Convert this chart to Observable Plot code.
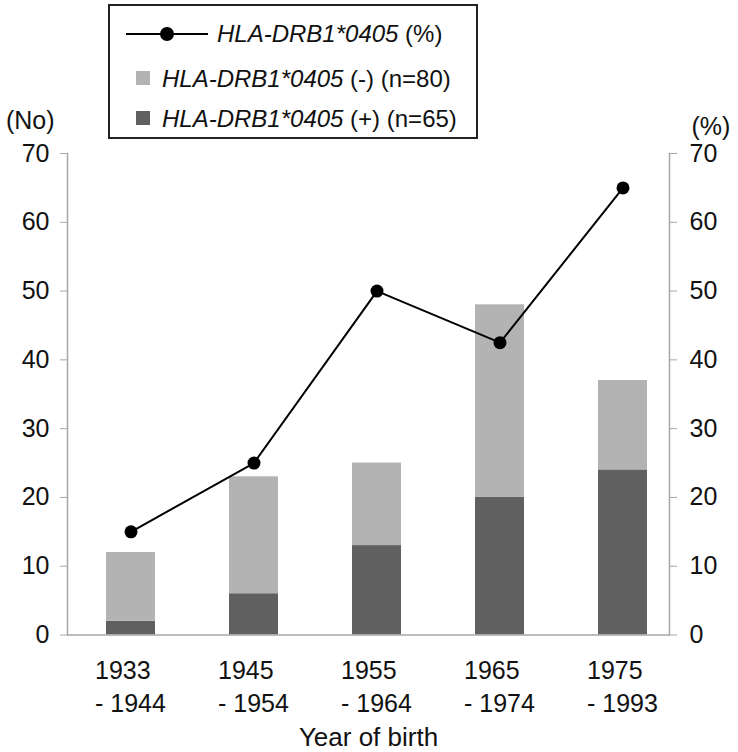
<!DOCTYPE html>
<html>
<head>
<meta charset="utf-8">
<script src="https://cdn.jsdelivr.net/npm/d3@7"></script>
<script src="https://cdn.jsdelivr.net/npm/@observablehq/plot@0.6"></script>
<style>
  html, body { margin: 0; padding: 0; background: #fff; }
  #wrap { position: relative; width: 738px; height: 752px; font-family: "Liberation Sans", Arial, sans-serif; }
  #legend { position: absolute; left: 108px; top: 4px; width: 366px; height: 131px; border: 2px solid #222; background: #fff; }
  .row { position: absolute; font-size: 24px; color: #111; line-height: 1; white-space: nowrap; }
  .row i { font-style: italic; }
  .sym { position: absolute; }
</style>
</head>
<body>
<div id="wrap">
  <div id="chart"></div>
  <div id="legend"></div>
</div>
<script>
// ---- data ----
const periods = ["1933 - 1944", "1945 - 1954", "1955 - 1964", "1965 - 1974", "1975 - 1993"];
const positiveCounts = [2, 6, 13, 20, 24];     // HLA-DRB1*0405 (+)
const negativeCounts = [10, 17, 12, 28, 13];   // HLA-DRB1*0405 (-)
const positivePercent = [15, 25, 50, 42.5, 65];
const yTicks = [0, 10, 20, 30, 40, 50, 60, 70];
const groups = ["(+)", "(-)"];
const groupColors = ["#606060", "#b3b3b3"];
const legendLabels = ["HLA-DRB1*0405 (%)", "HLA-DRB1*0405 (-) (n=80)", "HLA-DRB1*0405 (+) (n=65)"];

// ---- table ----
const bars = [];
periods.forEach((p, i) => {
  bars.push({period: p, group: "(+)", count: positiveCounts[i]});
  bars.push({period: p, group: "(-)", count: negativeCounts[i]});
});
const pct = periods.map((p, i) => ({period: p, pct: positivePercent[i]}));

const axisGray = "#a6a6a6";
const W = 738, H = 752;

const chart = Plot.plot({
  width: W,
  height: H,
  marginLeft: 67,
  marginRight: 69,
  marginTop: 153,
  marginBottom: 117.5,
  style: {fontFamily: "'Liberation Sans', Arial, sans-serif", fontSize: "25px", color: "#111", background: "#fff"},
  x: {domain: periods, range: [67, 686], paddingInner: 0.6, paddingOuter: 0.3},
  y: {domain: [0, 70]},
  color: {domain: groups, range: groupColors},
  marks: [
    Plot.barY(bars, {x: "period", y: "count", fill: "group"}),
    Plot.ruleY([0], {stroke: axisGray, strokeWidth: 1.5}),
    Plot.frame({anchor: "left", stroke: axisGray, strokeWidth: 1.5}),
    Plot.frame({anchor: "right", stroke: axisGray, strokeWidth: 1.5}),
    Plot.axisY(yTicks, {anchor: "left", label: null, tickSize: 7, tickPadding: 11, stroke: axisGray, fontSize: 25}),
    Plot.axisY(yTicks, {anchor: "right", label: null, tickSize: 7, tickPadding: 13, stroke: axisGray, fontSize: 25}),
    Plot.axisX({
      label: null, tickSize: 0, tickPadding: 21, fontSize: 25, lineHeight: 1.3,
      textAnchor: "start", dx: -36,
      tickFormat: d => d.replace(" - ", "\n- ")
    }),
    Plot.line(pct, {x: "period", y: "pct", stroke: "#000", strokeWidth: 2}),
    Plot.dot(pct, {x: "period", y: "pct", r: 6.5, fill: "#000"}),
    Plot.text(["(No)"], {frameAnchor: "top-left", textAnchor: "end", dx: -13, dy: -42, fontSize: 25, fill: "#111"}),
    Plot.text(["(%)"], {frameAnchor: "top-right", textAnchor: "start", dx: 22, dy: -36, fontSize: 25, fill: "#111"}),
    Plot.text(["Year of birth"], {frameAnchor: "bottom", dy: 111, fontSize: 26, fill: "#111"})
  ]
});
document.getElementById("chart").appendChild(chart);

// ---- legend ----
const lg = document.getElementById("legend");
function italicLabel(s) {
  const k = s.indexOf(" ");
  return "<i>" + s.slice(0, k) + "</i>" + s.slice(k);
}
// row 1: line with dot
const r1sym = document.createElementNS("http://www.w3.org/2000/svg", "svg");
r1sym.setAttribute("width", 84); r1sym.setAttribute("height", 20);
r1sym.setAttribute("class", "sym");
r1sym.style.left = "16px"; r1sym.style.top = "18px";
r1sym.innerHTML = '<line x1="0" y1="10" x2="82" y2="10" stroke="#000" stroke-width="2"/><circle cx="41" cy="10" r="7" fill="#000"/>';
lg.appendChild(r1sym);
const r1 = document.createElement("div");
r1.className = "row"; r1.style.left = "107px"; r1.style.top = "16px";
r1.innerHTML = italicLabel(legendLabels[0]);
lg.appendChild(r1);
// rows 2,3: squares
[[legendLabels[1], groupColors[1], 61], [legendLabels[2], groupColors[0], 101]].forEach(([lab, col, top]) => {
  const sq = document.createElement("div");
  sq.className = "sym";
  sq.style.left = "26px"; sq.style.top = (top + 4) + "px";
  sq.style.width = "14px"; sq.style.height = "14px"; sq.style.background = col;
  lg.appendChild(sq);
  const t = document.createElement("div");
  t.className = "row"; t.style.left = "52px"; t.style.top = top + "px";
  t.innerHTML = italicLabel(lab);
  lg.appendChild(t);
});
</script>
</body>
</html>
